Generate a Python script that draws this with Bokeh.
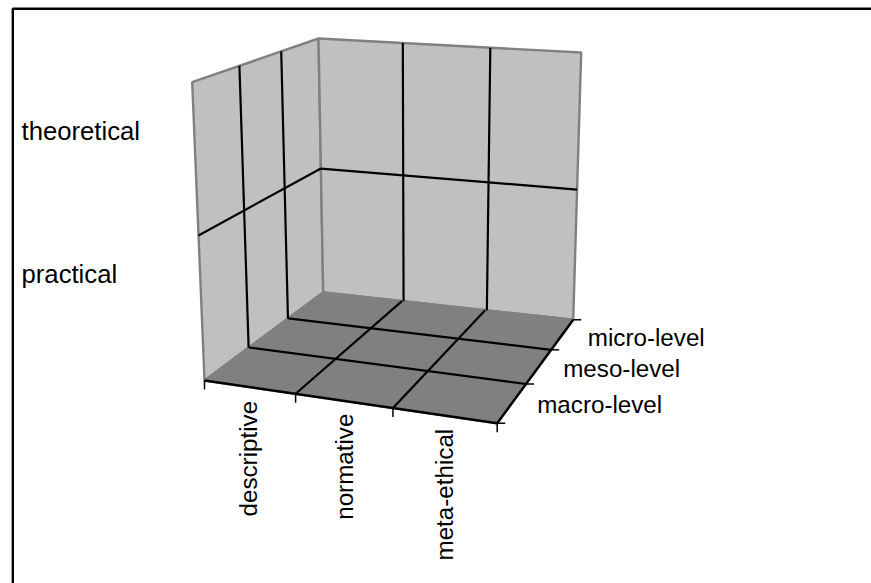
import numpy as np
from bokeh.plotting import figure
from bokeh.models import Range1d
from bokeh.core.properties import value
from bokeh.embed import file_html
from bokeh.resources import INLINE

# chart content
x_categories = ["descriptive", "normative", "meta-ethical"]
depth_categories = ["macro-level", "meso-level", "micro-level"]
y_categories = ["practical", "theoretical"]

# layout: page pixels of the 3D box corners (the projection), and label anchors
FLOOR = [(204, 380), (496.7, 422.7), (572.7, 319.3), (322.7, 292)]
BACK = [(322.7, 292), (572.7, 319.3), (580.7, 52), (318, 38)]
LEFT = [(204, 380), (322.7, 292), (318, 38), (191.7, 81.7)]
X_LABEL_AT = [(247.5, 516), (344.3, 519.3), (443.7, 560)]
DEPTH_LABEL_AT = [(536.7, 404.2), (562.7, 368.2), (587.3, 337.0)]
Y_LABEL_AT = [(21, 273.5), (21, 130.5)]
W, H = 871, 583
OX, OY = 0, 0


def homography(nu, nv, pts):
    """Projective map from the face's category space to page pixels."""
    src = [(0, 0), (nu, 0), (nu, nv), (0, nv)]
    A, b = [], []
    for (u, v), (px, py) in zip(src, pts):
        A.append([u, v, 1, 0, 0, 0, -u * px, -v * px]); b.append(px)
        A.append([0, 0, 0, u, v, 1, -u * py, -v * py]); b.append(py)
    h = np.linalg.solve(np.array(A, float), np.array(b, float))
    m = np.append(h, 1).reshape(3, 3)

    def f(u, v):
        q = m @ np.array([u, v, 1.0])
        return q[0] / q[2] - OX, q[1] / q[2] - OY
    return f


nx, nz, ny = len(x_categories), len(depth_categories), len(y_categories)
floor = homography(nx, nz, FLOOR)
back = homography(nx, ny, BACK)
left = homography(nz, ny, LEFT)

p = figure(width=W, height=H, output_backend="svg", toolbar_location=None,
           x_range=Range1d(0, W), y_range=Range1d(H, 0), min_border=0,
           outline_line_color=None, background_fill_color="white",
           border_fill_color="white")
p.axis.visible = False
p.grid.visible = False


def seg(a, b, color="black", width=2.2):
    p.line([a[0], b[0]], [a[1], b[1]], line_color=color, line_width=width)


def face(fn, nu, nv, fill):
    corners = [fn(0, 0), fn(nu, 0), fn(nu, nv), fn(0, nv)]
    p.patch([c[0] for c in corners], [c[1] for c in corners], fill_color=fill,
            line_color="#808080", line_width=2.4)


# outer chart frame (only top and left are inside the window)
p.line([12.3 - OX, 12.3 - OX, W], [H, 8.3 - OY, 8.3 - OY], line_color="black", line_width=2.4)

face(left, nz, ny, "#C0C0C0")
face(back, nx, ny, "#C0C0C0")
face(floor, nx, nz, "#808080")

# grid on the walls
for i in range(1, nx):
    seg(back(i, 0), back(i, ny))
    seg(floor(i, nz), floor(i, 0))
for k in range(1, nz):
    seg(left(k, 0), left(k, ny))
    seg(floor(0, k), floor(nx, k))
for j in range(1, ny):
    seg(back(0, j), back(nx, j))
    seg(left(0, j), left(nz, j))

# black axes at the front of the floor, with ticks
seg(floor(0, 0), floor(nx, 0), width=2.4)
seg(floor(nx, 0), floor(nx, nz), width=2.4)
for i in range(nx + 1):
    a = floor(i, 0)
    seg(a, (a[0], a[1] + 9), width=1.5)
for k in range(nz + 1):
    a = floor(nx, k)
    seg(a, (a[0] + 8, a[1]), width=1.5)

font = value("Liberation Sans")
p.text([a[0] - OX for a in Y_LABEL_AT], [a[1] - OY for a in Y_LABEL_AT], text=y_categories,
       text_font=font, text_font_size=value("25.7px"), text_color="black", text_baseline="alphabetic")
p.text([a[0] - OX for a in DEPTH_LABEL_AT], [a[1] - OY for a in DEPTH_LABEL_AT], text=depth_categories,
       text_font=font, text_font_size=value("24.2px"), text_color="black", text_baseline="alphabetic")
p.text([a[0] - OX for a in X_LABEL_AT], [a[1] - OY for a in X_LABEL_AT], text=x_categories,
       text_font=font, text_font_size=value("24.2px"), text_color="black", text_baseline="alphabetic",
       angle=np.pi / 2)

open("out.html", "w").write(file_html(p, INLINE))
